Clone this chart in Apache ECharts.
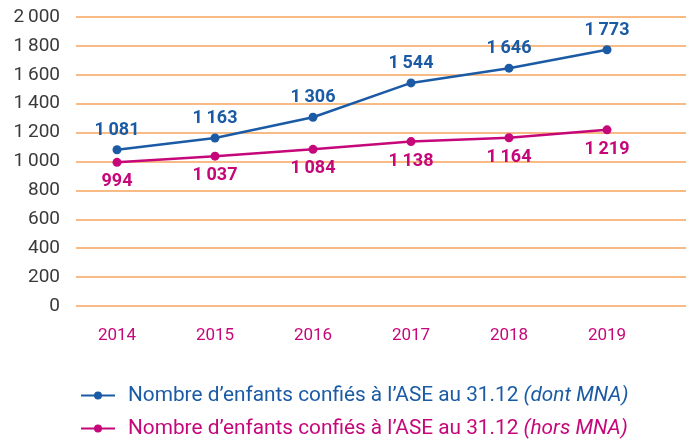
<!DOCTYPE html>
<html>
<head>
<meta charset="utf-8">
<script src="https://cdn.jsdelivr.net/npm/echarts@6/dist/echarts.min.js"></script>
<style>
  html, body { margin: 0; padding: 0; background: #ffffff; }
  #chart { width: 686px; height: 441px; }
</style>
</head>
<body>
<div id="chart"></div>
<script>
// Années au 31.12
const years = ['2014', '2015', '2016', '2017', '2018', '2019'];
// Nombre d'enfants confiés à l'ASE (dont MNA)
const dontMNA = [1081, 1163, 1306, 1544, 1646, 1773];
// Nombre d'enfants confiés à l'ASE (hors MNA)
const horsMNA = [994, 1037, 1084, 1138, 1164, 1219];
// Graduations de l'axe vertical
const yTicks = [0, 200, 400, 600, 800, 1000, 1200, 1400, 1600, 1800, 2000];

const BLUE = '#1b5ba5';
const PINK = '#c5077a';
const GRID = '#f6a55c';
const FONT = 'Roboto';
const LEGEND_SIZE = 20.8;

// Séparateur de milliers à la française
const fmt = v => {
  const s = String(Math.round(v));
  return s.length > 3 ? s.slice(0, -3) + '\u2009' + s.slice(-3) : s;
};

const series1Name = 'Nombre d\u2019enfants confiés à l\u2019ASE au 31.12 (dont MNA)';
const series2Name = 'Nombre d\u2019enfants confiés à l\u2019ASE au 31.12 (hors MNA)';

const chart = echarts.init(document.getElementById('chart'), null, { renderer: 'canvas' });

const legendRich = (key, color) => ({
  [key]: { color: color, fontSize: LEGEND_SIZE, fontFamily: FONT, padding: [0, 0, 0, 8] },
  [key + 'i']: { color: color, fontSize: LEGEND_SIZE, fontFamily: FONT, fontStyle: 'italic' }
});

chart.setOption({
  backgroundColor: '#ffffff',
  animation: false,
  textStyle: { fontFamily: FONT },
  grid: [
    { left: 76, right: 0, top: 17, bottom: 135 },
    { left: 68, width: 588, top: 17, bottom: 135 }
  ],
  xAxis: [
    { gridIndex: 0, type: 'value', min: 0, max: 1, show: false },
    {
      gridIndex: 1,
      type: 'category',
      data: years,
      boundaryGap: true,
      axisLine: { show: false },
      axisTick: { show: false },
      axisLabel: { color: PINK, fontSize: 17, fontFamily: FONT, margin: 21 }
    }
  ],
  yAxis: [
    {
      gridIndex: 0,
      type: 'value',
      min: yTicks[0],
      max: yTicks[yTicks.length - 1],
      interval: yTicks[1] - yTicks[0],
      axisLine: { show: false },
      axisTick: { show: false },
      splitLine: { lineStyle: { color: GRID, width: 1.5 } },
      axisLabel: {
        color: '#3a3a3a',
        fontSize: 19,
        fontFamily: FONT,
        margin: 16,
        formatter: v => fmt(v)
      }
    },
    {
      gridIndex: 1,
      type: 'value',
      min: yTicks[0],
      max: yTicks[yTicks.length - 1],
      show: false
    }
  ],
  legend: {
    orient: 'vertical',
    left: 80,
    top: 385,
    height: 80,
    itemWidth: 34,
    itemHeight: 10,
    itemGap: 12,
    padding: 0,
    textStyle: { fontSize: LEGEND_SIZE, fontFamily: FONT },
    formatter: name => {
      const i = name.indexOf('(');
      const key = name === series1Name ? 'b' : 'p';
      return '{' + key + '|' + name.slice(0, i) + '}{' + key + 'i|' + name.slice(i) + '}';
    },
    data: [
      { name: series1Name, textStyle: { rich: legendRich('b', BLUE) } },
      { name: series2Name, textStyle: { rich: legendRich('p', PINK) } }
    ]
  },
  series: [
    {
      name: series1Name,
      type: 'line',
      xAxisIndex: 1,
      yAxisIndex: 1,
      data: dontMNA,
      color: BLUE,
      symbol: 'circle',
      symbolSize: 9,
      lineStyle: { width: 2.5, color: BLUE },
      itemStyle: { color: BLUE },
      label: {
        show: true,
        position: 'top',
        distance: 6,
        color: BLUE,
        fontSize: 18,
        fontWeight: 'bold',
        fontFamily: FONT,
        formatter: p => fmt(p.value)
      }
    },
    {
      name: series2Name,
      type: 'line',
      xAxisIndex: 1,
      yAxisIndex: 1,
      data: horsMNA,
      color: PINK,
      symbol: 'circle',
      symbolSize: 9,
      lineStyle: { width: 2.5, color: PINK },
      itemStyle: { color: PINK },
      label: {
        show: true,
        position: 'bottom',
        distance: 6,
        color: PINK,
        fontSize: 18,
        fontWeight: 'bold',
        fontFamily: FONT,
        formatter: p => fmt(p.value)
      }
    }
  ]
});
</script>
</body>
</html>
